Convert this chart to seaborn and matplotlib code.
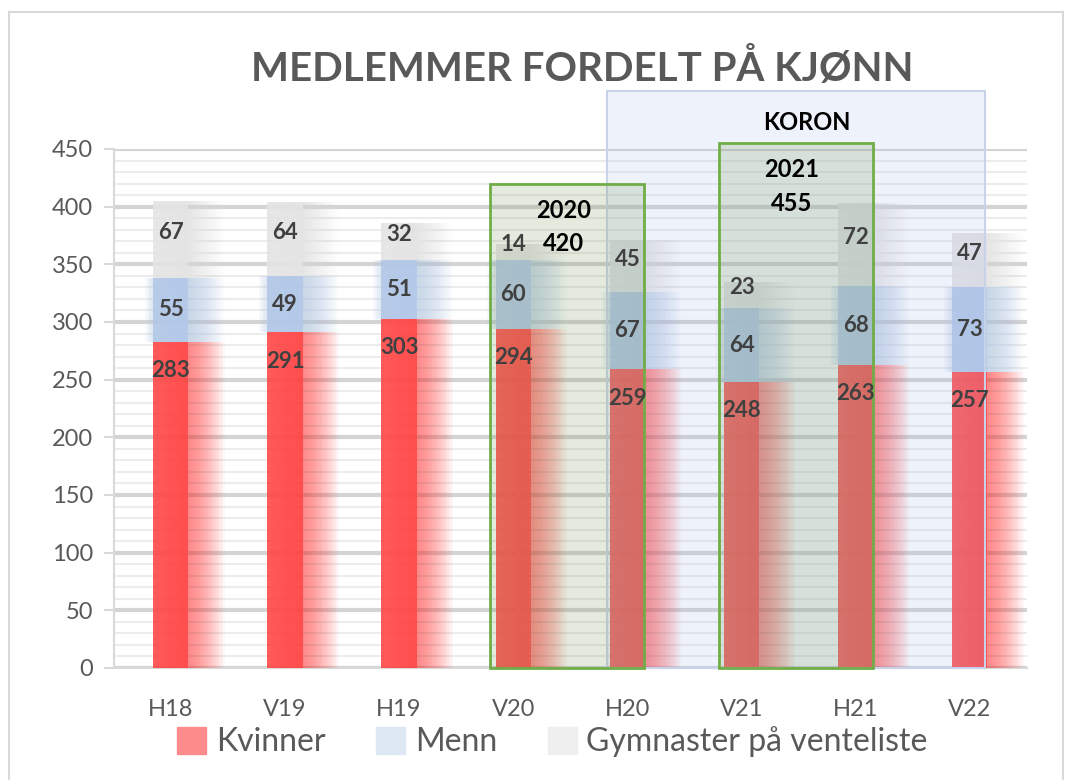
import matplotlib.pyplot as plt
import matplotlib.patheffects as pe
from matplotlib.patches import Rectangle, Patch
from matplotlib.ticker import MultipleLocator
import seaborn as sns
import pandas as pd

perioder = ['H18', 'V19', 'H19', 'V20', 'H20', 'V21', 'H21', 'V22']
kvinner = [283, 291, 303, 294, 259, 248, 263, 257]
menn = [55, 49, 51, 60, 67, 64, 68, 73]
venteliste = [67, 64, 32, 14, 45, 23, 72, 47]

# aarstall-bokser (2020 og 2021) og koronaperioden
aar_tekst = ['2020', '2021']
aar_total = [420, 455]
korona_tekst = 'KORON'
korona_topp = 500

RED = '#FF4848'
BLUE = '#B3C8E8'
GREY = '#E4E4E4'
TXT = '#595959'
LAB = '#404040'

sns.set_theme(style='white')
plt.rcParams['font.family'] = ['Lato', 'DejaVu Sans']

df = pd.DataFrame({'Periode': perioder, 'Kvinner': kvinner,
                   'Menn': menn, 'Venteliste': venteliste})
df['KvMe'] = df['Kvinner'] + df['Menn']
df['Total'] = df['KvMe'] + df['Venteliste']

fig = plt.figure(figsize=(10.73, 7.8), dpi=100)
ax = fig.add_axes([0.106, 0.1436, 0.851, 0.6654])


def glow(color, left=False):
    # mykere glod: mange tynne skygger med lav alpha
    effs = [pe.SimplePatchShadow(offset=(k, 0), shadow_rgbFace=color, alpha=0.037)
            for k in range(1, 27)]
    if left:
        effs += [pe.SimplePatchShadow(offset=(-k, 0), shadow_rgbFace=color, alpha=0.08)
                 for k in range(1, 7)]
    return effs + [pe.Normal()]


sns.barplot(data=df, x='Periode', y='Kvinner', order=perioder, color=RED,
            saturation=1, width=0.31, ax=ax, zorder=3, linewidth=0, alpha=0.9)
sns.barplot(data=df, x='Periode', y='Menn', order=perioder, color=BLUE,
            saturation=1, width=0.31, ax=ax, zorder=3, linewidth=0, alpha=0.9,
            bottom=df['Kvinner'])
sns.barplot(data=df, x='Periode', y='Venteliste', order=perioder, color=GREY,
            saturation=1, width=0.31, ax=ax, zorder=3, linewidth=0, alpha=0.9,
            bottom=df['KvMe'])

n = len(perioder)
for i, p in enumerate(ax.patches):
    seg = i // n
    if seg == 0:
        p.set_path_effects(glow(RED))
    elif seg == 1:
        p.set_path_effects(glow(BLUE, left=True))
    else:
        p.set_path_effects(glow(GREY))

# verdietiketter
for i in range(n):
    ax.text(i, kvinner[i] - 25, str(kvinner[i]), ha='center', va='center',
            fontsize=16, fontweight='bold', color=LAB, zorder=6)
    ax.text(i, kvinner[i] + menn[i] / 2, str(menn[i]), ha='center', va='center',
            fontsize=16, fontweight='bold', color=LAB, zorder=6)
    ax.text(i, df['KvMe'][i] + venteliste[i] / 2 + 6, str(venteliste[i]),
            ha='center', va='center', fontsize=16, fontweight='bold',
            color=LAB, zorder=6)

# koronaboks
ax.add_patch(Rectangle((3.82, 0), 3.31, korona_topp, facecolor='#A0B4E6',
                       alpha=0.17, edgecolor='none', zorder=4, clip_on=False))
ax.add_patch(Rectangle((3.82, 0), 3.31, korona_topp, facecolor='none',
                       edgecolor='#C8D2E8', lw=1.5, zorder=4, clip_on=False))
ax.text(5.57, korona_topp - 27, korona_tekst, ha='center', va='center',
        fontsize=17, fontweight='bold', color='black', zorder=6, clip_on=False)

# aarsbokser
for x0, t, tot in zip([2.80, 4.80], aar_tekst, aar_total):
    ax.add_patch(Rectangle((x0, 0), 1.35, tot, facecolor='#789B5A', alpha=0.2,
                           edgecolor='none', zorder=5, clip_on=False))
    ax.add_patch(Rectangle((x0, 0), 1.35, tot, facecolor='none',
                           edgecolor='#70AD47', lw=2, zorder=5, clip_on=False))
    ax.text(x0 + 0.64, tot - 23, t, ha='center', va='center', fontsize=17,
            fontweight='bold', color='black', zorder=6)
    ax.text(x0 + 0.64, tot - 52, str(tot), ha='center', va='center', fontsize=17,
            fontweight='bold', color='black', zorder=6)

ax.set_ylim(0, 450)
ax.set_xlim(-0.5, 7.5)
ax.yaxis.set_major_locator(MultipleLocator(50))
ax.yaxis.set_minor_locator(MultipleLocator(10))
ax.grid(axis='y', which='major', color='#D4D4D4', lw=3, zorder=0)
ax.grid(axis='y', which='minor', color='#ECECEC', lw=1.5, zorder=0)
ax.set_axisbelow(True)
ax.set_xlabel('')
ax.set_ylabel('')
for s in ['top', 'right']:
    ax.spines[s].set_visible(False)
for s in ['left', 'bottom']:
    ax.spines[s].set_color('#D9D9D9')
    ax.spines[s].set_linewidth(1.5)
ax.tick_params(axis='y', which='major', length=7, width=1.5, color='#D9D9D9',
               labelsize=17, labelcolor=TXT, pad=8, left=True)
ax.tick_params(axis='y', which='minor', length=0)
ax.tick_params(axis='x', length=0, labelsize=17, labelcolor=TXT, pad=22)

fig.text(0.543, 0.913, 'MEDLEMMER FORDELT PÅ KJØNN', ha='center', va='center',
         fontsize=29, fontweight='bold', color=TXT)

handles = [Patch(color='#FF8C8C', label='Kvinner'),
           Patch(color='#DDE8F4', label='Menn'),
           Patch(color='#EFEFEF', label='Gymnaster på venteliste')]
fig.legend(handles=handles, loc='center', bbox_to_anchor=(0.515, 0.049), ncol=3,
           frameon=False, fontsize=23, labelcolor=TXT, handlelength=0.9,
           handleheight=0.9, handletextpad=0.3, columnspacing=1.6)

fig.add_artist(Rectangle((0.0084, -0.02), 0.9823, 1.0046, transform=fig.transFigure,
                         facecolor='none', edgecolor='#D9D9D9', lw=1.5))

fig.savefig('out.png', dpi=100)
